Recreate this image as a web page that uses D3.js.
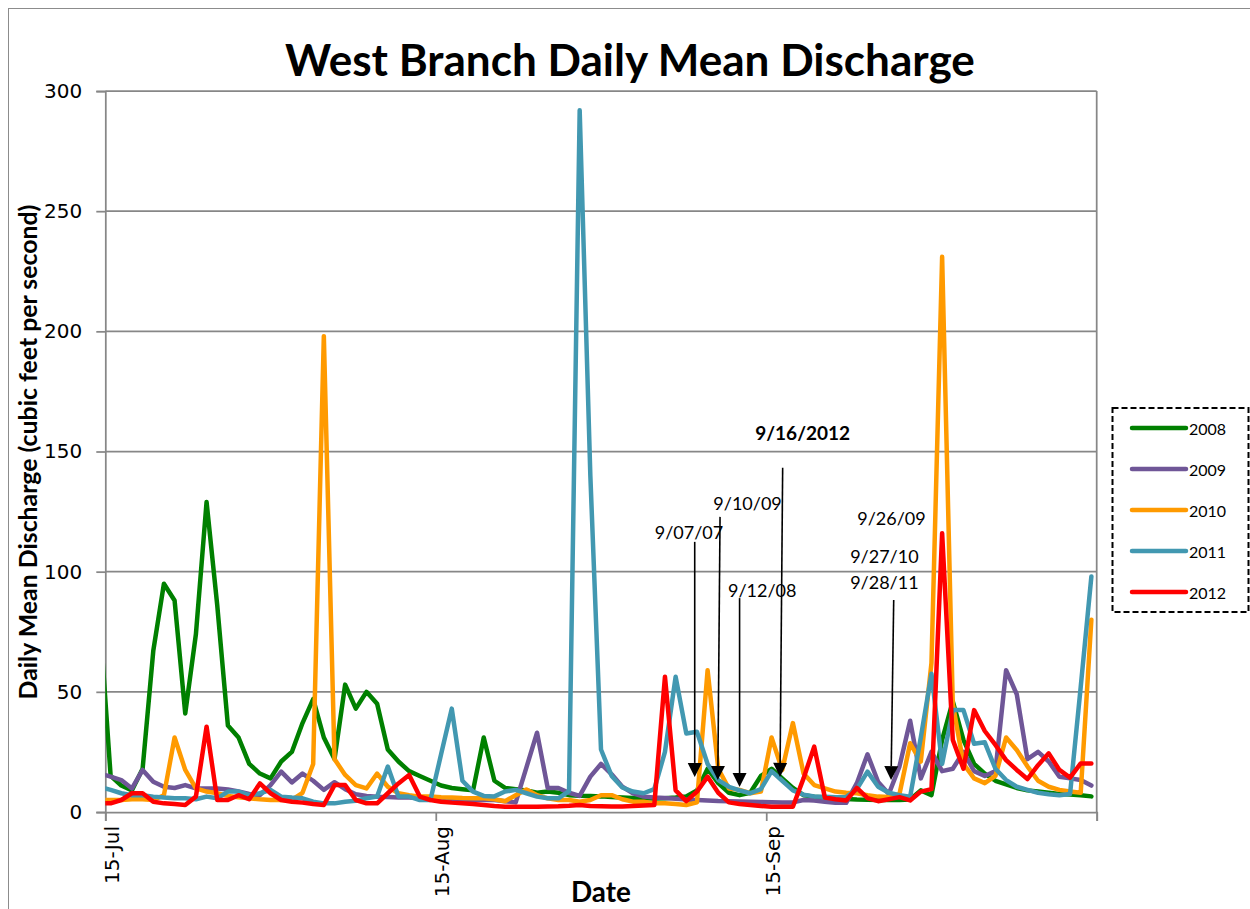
<!DOCTYPE html>
<html><head><meta charset="utf-8">
<script src="https://cdn.jsdelivr.net/npm/d3@7"></script>
<style>body{margin:0;background:#fff;} svg{display:block;}</style>
</head><body>
<svg id="chart" width="1250" height="909"></svg>
<script>
// ---------- data ----------
// daily values, first value = 14-Jul, last = 15-Oct (plotted at mid-day)
const firstDay = "2012-07-14";
const years = ["2008", "2009", "2010", "2011", "2012"];
const q2008 = [79, 15, 11, 9, 18, 67, 95, 88, 41, 74,
  129, 86, 36, 31, 20, 16, 14, 21, 25, 37,
  47, 31, 22, 53, 43, 50, 45, 26, 21, 17,
  15, 13, 11, 10, 9.5, 9, 31, 13, 10, 9.5,
  9, 8, 8.5, 8, 7, 6.8, 6.7, 6.5, 6.2, 6,
  5.8, 5.7, 5.6, 5.7, 6, 6.5, 9, 18, 12, 8,
  7, 8, 15, 18, 14, 10, 7, 6.4, 6, 5.7,
  5.4, 5.2, 5.1, 5, 5, 5, 5.2, 9, 7, 30,
  46, 30, 20, 16, 13, 11.5, 10, 9, 8.5, 8,
  7.5, 7.3, 7, 6.5];
const q2009 = [16, 14.7, 13.3, 9.8, 17.5, 12.6, 10.5, 10, 11.2, 9.8,
  9.8, 9.8, 9.4, 8.5, 7.5, 7, 11.2, 16.8, 12.3, 16,
  13, 9.2, 12.4, 9.5, 7.4, 6.7, 6.3, 6.2, 6, 6,
  5.8, 5.6, 5.5, 5.3, 5.2, 5, 5, 5, 4.5, 4,
  18.5, 33, 10, 10, 8, 6.7, 14.7, 20, 15.7, 10.5,
  7.8, 6.4, 6, 5.8, 5.5, 5.2, 5, 4.8, 4.6, 4.5,
  4.4, 4.3, 4.2, 4.1, 4, 4, 5, 4.8, 4.3, 3.8,
  3.8, 12, 24, 12.5, 7.5, 19, 38, 14, 25, 17,
  18, 25, 17, 15, 17, 59, 49, 22, 25, 21,
  14.7, 14, 13.3, 11];
const q2010 = [5, 5, 5, 5.3, 5.3, 5, 7, 31, 17.5, 9.8,
  8.5, 7.8, 6.7, 6.1, 5.7, 5.3, 5, 5, 5, 8,
  20, 198, 22, 15.4, 11.2, 9.8, 16, 10.5, 7.8, 7,
  6.4, 6.4, 6.1, 6, 5.8, 5.7, 5.7, 5.3, 4.5, 7,
  9.4, 7, 5.7, 5, 5, 4.3, 5, 7, 7, 5.3,
  4.3, 4.3, 3.6, 3.6, 3.3, 2.9, 4, 59, 18, 9.8,
  9.2, 7.8, 8.5, 31, 17.5, 37, 16, 11.2, 9.8, 8.5,
  8, 7.8, 7, 6.4, 6.2, 7.5, 28.6, 21, 62, 231,
  45, 20, 14, 12, 15, 31, 25.8, 19, 13, 10.5,
  9.2, 8.5, 8, 80];
const q2011 = [10.4, 9.2, 7.8, 7, 7, 6.4, 6, 5.7, 5.7, 5.3,
  6.4, 5.7, 8.5, 8.5, 7, 7.8, 9.2, 6.4, 6, 5.7,
  4.3, 3.6, 3.6, 4.3, 4.7, 5.7, 6.4, 18.9, 6.4, 6.4,
  5, 5, 24, 43, 13, 8.5, 6.7, 6.5, 8.5, 9.2,
  7.8, 6.4, 5.7, 5.7, 8.7, 292, 140, 26, 15, 10.2,
  8.5, 7.8, 9.5, 25, 56.3, 32.7, 33.4, 20, 13.3, 10.5,
  9, 7.8, 9.5, 17, 13, 9, 7.2, 6.5, 6.3, 6.1,
  6.2, 9.5, 16.8, 10.5, 8, 7, 6.4, 31, 57.5, 20,
  42.4, 42.4, 28.4, 29, 18, 13.3, 10.5, 9.2, 8, 7.4,
  7, 7.5, 52, 98];
const q2012 = [3.6, 3.6, 5, 7.8, 7.8, 4.3, 3.6, 3.3, 2.9, 6.4,
  35.5, 5, 5, 7, 5.3, 11.9, 7.8, 5, 4.3, 3.9,
  3.3, 2.9, 11.2, 11.2, 5, 3.6, 3.6, 7.8, 11.9, 15.4,
  6.4, 5, 4.3, 3.9, 3.6, 3.3, 2.9, 2.5, 2.2, 2.2,
  2.2, 2.2, 2.3, 2.4, 2.6, 2.9, 2.5, 2.4, 2.3, 2.3,
  2.5, 2.7, 2.9, 56.3, 9, 4.5, 8.5, 14.7, 8, 4,
  3.3, 2.9, 2.5, 2.2, 2.2, 2.2, 14, 27.2, 6, 5.3,
  4.8, 10, 5.8, 4.5, 5.3, 6.2, 4.8, 8.5, 9.5, 116,
  30, 18, 42.4, 33.7, 27.9, 21.6, 17.5, 13.7, 19.5, 24.4,
  17.5, 14.3, 20.2, 20.2];
const seriesValues = [q2008, q2009, q2010, q2011, q2012];
const seriesColors = ["#008000", "#6f5697", "#ff9a00", "#4298b1", "#ff0000"];

const yTicks = [0, 50, 100, 150, 200, 250, 300];
const xTickDates = ["2012-07-15", "2012-08-15", "2012-09-15", "2012-10-16"];
const xTickLabels = ["15-Jul", "15-Aug", "15-Sep", ""];

// annotations (x = days after 15-Jul, y = discharge)
const annLabels = ["9/07/07", "9/10/09", "9/12/08", "9/16/2012", "9/26/09", "9/27/10", "9/28/11"];
const annBold = [false, false, false, true, false, false, false];
const annTextDay = [54.76, 60.25, 61.65, 65.45, 73.75, 73.1, 73.1];
const annTextQ = [113.6, 125.7, 89.5, 154.8, 119.4, 103.6, 92.8];
const arrowFromDay = [55.32, 57.67, 59.54, 63.58, 73.99];
const arrowFromQ = [112.4, 122.8, 89, 143.2, 88.2];
const arrowToDay = [55.32, 57.49, 59.54, 63.30, 73.71];
const arrowToQ = [14.6, 13.3, 10.4, 14.6, 13.3];

// ---------- layout ----------
const svg = d3.select("#chart");
const L = 105.3, R = 1096.7, T = 91, B = 812;
const parse = d3.utcParse("%Y-%m-%d");
const day0 = parse(firstDay);
const dates = q2008.map((_, i) => d3.utcHour.offset(d3.utcDay.offset(day0, i), 12));
const x = d3.scaleUtc().domain([parse(xTickDates[0]), parse(xTickDates[3])]).range([L, R]);
const y = d3.scaleLinear().domain([0, 300]).range([B, T]);
const dayX = d => x(d3.utcHour.offset(parse(xTickDates[0]), d * 24));

// outer frame
svg.append("rect").attr("x", 8.5).attr("y", 8.5).attr("width", 1300).attr("height", 1000)
  .attr("fill", "none").attr("stroke", "#8c8c8c").attr("stroke-width", 1);

const grid = "#878787";
// gridlines
svg.append("g").selectAll("line").data(yTicks.filter(t => t > 0)).join("line")
  .attr("x1", L).attr("x2", R).attr("y1", d => y(d)).attr("y2", d => y(d))
  .attr("stroke", grid).attr("stroke-width", 1.75);
// right border
svg.append("line").attr("x1", R).attr("x2", R).attr("y1", T).attr("y2", B)
  .attr("stroke", grid).attr("stroke-width", 1.75);

// y axis
const yAxis = svg.append("g").attr("transform", `translate(${L},0)`)
  .call(d3.axisLeft(y).tickValues(yTicks).tickSize(9).tickPadding(14));
yAxis.select(".domain").attr("stroke", grid).attr("stroke-width", 1.75);
yAxis.selectAll(".tick line").attr("stroke", grid).attr("stroke-width", 1.75);
yAxis.selectAll(".tick text").attr("font-family", "DejaVu Sans").attr("font-size", 20).attr("fill", "#000");

// x axis
const xAxis = svg.append("g").attr("transform", `translate(0,${B})`)
  .call(d3.axisBottom(x).tickValues(xTickDates.map(parse)).tickSize(9)
    .tickFormat((d, i) => xTickLabels[i]));
xAxis.select(".domain").attr("stroke", grid).attr("stroke-width", 1.75);
xAxis.selectAll(".tick line").attr("stroke", grid).attr("stroke-width", 1.75);
xAxis.selectAll(".tick text")
  .attr("font-family", "DejaVu Sans").attr("font-size", 20).attr("fill", "#000")
  .attr("text-anchor", "end").attr("dominant-baseline", "central")
  .attr("transform", "rotate(-90)").attr("x", -14).attr("y", 6).attr("dy", null);

// clip
svg.append("clipPath").attr("id", "plotclip").append("rect")
  .attr("x", L).attr("y", T - 10).attr("width", R - L).attr("height", B - T + 10);

// series
const line = d3.line().x((d, i) => x(dates[i])).y(d => y(d));
const lines = svg.append("g").attr("clip-path", "url(#plotclip)");
seriesValues.forEach((vals, s) => {
  lines.append("path").datum(vals).attr("d", line)
    .attr("fill", "none").attr("stroke", seriesColors[s]).attr("stroke-width", 4.5)
    .attr("stroke-linejoin", "round").attr("stroke-linecap", "round");
});

// annotations
const ann = svg.append("g");
annLabels.forEach((t, i) => {
  ann.append("text").attr("x", dayX(annTextDay[i])).attr("y", y(annTextQ[i]))
    .attr("text-anchor", "middle").attr("font-family", "Lato")
    .attr("font-size", annBold[i] ? 19 : 18).attr("font-weight", annBold[i] ? "bold" : "normal")
    .attr("fill", "#000").text(t);
});
arrowFromDay.forEach((d, i) => {
  const x1 = dayX(d), y1 = y(arrowFromQ[i]), x2 = dayX(arrowToDay[i]), y2 = y(arrowToQ[i]);
  const len = Math.hypot(x2 - x1, y2 - y1), ux = (x2 - x1) / len, uy = (y2 - y1) / len;
  const h = 14, w = 7;
  const bx = x2 - ux * h, by = y2 - uy * h;
  ann.append("line").attr("x1", x1).attr("y1", y1).attr("x2", bx).attr("y2", by)
    .attr("stroke", "#000").attr("stroke-width", 1.6);
  ann.append("path")
    .attr("d", `M${x2},${y2}L${bx - uy * w},${by + ux * w}L${bx + uy * w},${by - ux * w}Z`)
    .attr("fill", "#000");
});

// titles
function fit(sel, target) {
  const len = sel.node().getComputedTextLength();
  const fs = parseFloat(sel.attr("font-size"));
  sel.attr("font-size", fs * target / len);
}
const title = svg.append("text").attr("x", 630).attr("y", 76).attr("text-anchor", "middle")
  .attr("font-family", "Lato").attr("font-weight", "bold").attr("font-size", 38)
  .attr("fill", "#000").text("West Branch Daily Mean Discharge");
fit(title, 690);

const ytitle = svg.append("text").attr("transform", "translate(37,452) rotate(-90)")
  .attr("text-anchor", "middle").attr("font-family", "Lato").attr("font-weight", "bold")
  .attr("font-size", 20).attr("fill", "#000")
  .text("Daily Mean Discharge (cubic feet per second)");
fit(ytitle, 495);

const xtitle = svg.append("text").attr("x", 601).attr("y", 902).attr("text-anchor", "middle")
  .attr("font-family", "Lato").attr("font-weight", "bold").attr("font-size", 24)
  .attr("fill", "#000").text("Date");
fit(xtitle, 60);

// legend
const lg = svg.append("g");
lg.append("rect").attr("x", 1112.5).attr("y", 408).attr("width", 136).attr("height", 204)
  .attr("fill", "#fff").attr("stroke", "#000").attr("stroke-width", 2).attr("stroke-dasharray", "6,3");
years.forEach((yr, i) => {
  const cy = 428 + i * 41;
  lg.append("line").attr("x1", 1132).attr("x2", 1186).attr("y1", cy).attr("y2", cy)
    .attr("stroke", seriesColors[i]).attr("stroke-width", 4.5).attr("stroke-linecap", "round");
  lg.append("text").attr("x", 1189).attr("y", cy).attr("dominant-baseline", "central")
    .attr("font-family", "Lato").attr("font-size", 16).attr("fill", "#000").text(yr);
});
</script>
</body></html>
